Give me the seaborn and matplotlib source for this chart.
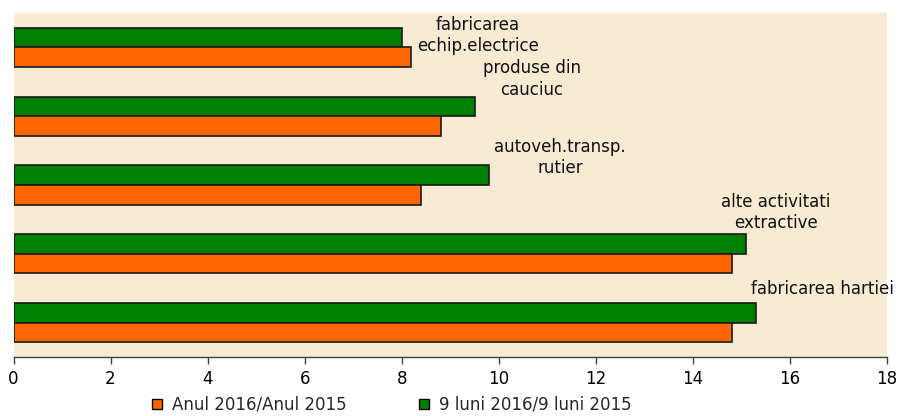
import pandas as pd
import seaborn as sns
import matplotlib.pyplot as plt
from matplotlib.lines import Line2D

# Data
categories = ['fabricarea\nechip.electrice', 'produse din\ncauciuc',
              'autoveh.transp.\nrutier', 'alte activitati\nextractive',
              'fabricarea hartiei']
series = ['Anul 2016/Anul 2015', '9 luni 2016/9 luni 2015']
anul = [8.2, 8.8, 8.4, 14.8, 14.8]
noua_luni = [8.0, 9.5, 9.8, 15.1, 15.3]
xticks = list(range(0, 19, 2))

df = pd.DataFrame({
    'Ramura': categories * 2,
    'Perioada': [series[0]] * len(categories) + [series[1]] * len(categories),
    'Valoare': anul + noua_luni,
})

sns.set_theme(style='white')
plt.rcParams['font.family'] = ['DejaVu Sans']

colors = {series[0]: '#FF6600', series[1]: '#007F00'}

fig = plt.figure(figsize=(9.01, 4.16), dpi=100)
ax = fig.add_axes([13.5 / 901, 1 - 357 / 416, 873.5 / 901, 344 / 416])
ax.set_facecolor('#F8EBD4')

# green series drawn on top of each pair, orange below
sns.barplot(data=df, x='Valoare', y='Ramura', hue='Perioada',
            hue_order=[series[1], series[0]], palette=colors, orient='h',
            width=0.57, edgecolor='#1a1a1a', linewidth=1.2, saturation=1,
            legend=False, ax=ax)

ax.set_xlim(0, 18)
ax.set_ylim(4.5, -0.5)
ax.set_xticks(xticks)
ax.set_yticks([])
ax.set_xlabel('')
ax.set_ylabel('')
ax.tick_params(axis='x', bottom=True, length=5, width=1, color='#404040',
               pad=4, labelsize=12, labelcolor='black')
for side in ['top', 'right', 'left']:
    ax.spines[side].set_visible(False)
ax.spines['bottom'].set_color('#404040')
ax.spines['bottom'].set_linewidth(1)

# category names sit above each pair of bars
label_dx = [1.37, 1.18, 1.46, 0.61, 1.36]
label_dy = [-0.17, -0.54, -0.40, -0.60, -0.49]
for i, name in enumerate(categories):
    top = max(anul[i], noua_luni[i])
    ax.text(top + label_dx[i], i + label_dy[i], name, ha='center', va='center',
            fontsize=12, linespacing=1.25, color='#111111', clip_on=False)

handles = [Line2D([], [], marker='s', color='none', markerfacecolor=colors[s],
                  markeredgecolor='black', markersize=7) for s in series]
fig.legend(handles, series, loc='center', bbox_to_anchor=(0.434, 0.028),
           ncol=2, frameon=False, fontsize=12, handlelength=0.8,
           handletextpad=0.5, columnspacing=4.2)

fig.savefig('out.png', dpi=100)
